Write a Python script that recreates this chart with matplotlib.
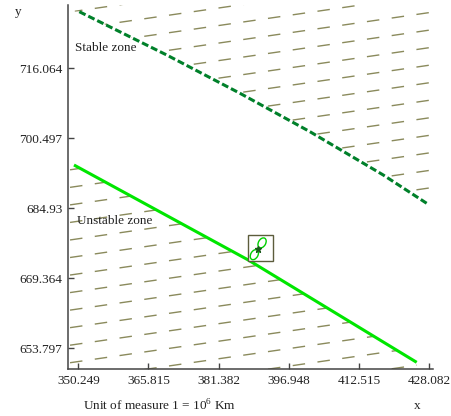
import matplotlib
matplotlib.use("Agg")

import matplotlib.pyplot as plt
import numpy as np
from matplotlib.patches import Ellipse, Polygon, Rectangle

plt.rcParams["font.family"] = ["Liberation Serif", "DejaVu Serif"]
plt.rcParams["mathtext.fontset"] = "custom"
plt.rcParams["mathtext.rm"] = "Liberation Serif"
plt.rcParams["lines.scale_dashes"] = False

# axis ticks
x_ticks = [350.249, 365.815, 381.382, 396.948, 412.515, 428.082]
y_ticks = [653.797, 669.364, 684.93, 700.497, 716.064]
x_range = [347.96, 428.97]
y_range = [649.13, 730.14]

# boundary curves (x, y)
stable_x = [350.47, 369.87, 386.14, 401.67, 417.94, 427.57]
stable_y = [728.65, 719.02, 710.50, 701.96, 692.33, 686.04]
unstable_x = [349.29, 387.98, 425.35]
unstable_y = [694.56, 673.43, 650.68]

# small marker box (centre, size)
icon_xy = (390.69, 676.10)
icon_size = (5.7, 5.7)

# background direction lines
hatch_slope = 0.145
hatch_anchor = (348.41, 650.59)
hatch_step = 3.9

olive = "#8a8a5c"
spine_col = "#444444"

fig = plt.figure(figsize=(4.51, 4.16), dpi=100)
ax = fig.add_axes([68 / 451, 1 - 369.3 / 416, 365 / 451, 364.3 / 416])
ax.set_xlim(x_range)
ax.set_ylim(y_range)

# clipping regions for the two zones
stable_pts = ([(stable_x[0] - 1.0, stable_y[0])]
              + list(zip(stable_x, stable_y))
              + [(x_range[1], stable_y[-1]), (x_range[1], y_range[1]),
                 (stable_x[0] - 1.0, y_range[1])])
unstable_pts = ([(x_range[0], unstable_y[0])]
                + list(zip(unstable_x, unstable_y))
                + [(unstable_x[-1], y_range[0]), (x_range[0], y_range[0])])
stable_poly = Polygon(stable_pts, closed=True, transform=ax.transData,
                      facecolor="none", edgecolor="none")
unstable_poly = Polygon(unstable_pts, closed=True, transform=ax.transData,
                        facecolor="none", edgecolor="none")
ax.add_patch(stable_poly)
ax.add_patch(unstable_poly)

hx = np.array([hatch_anchor[0], x_range[1] + 2])
k_lo = int(np.floor((y_range[0] - hatch_anchor[1] - hatch_slope * 85) / hatch_step)) - 1
k_hi = int(np.ceil((y_range[1] - hatch_anchor[1]) / hatch_step)) + 1
for k in range(k_lo, k_hi + 1):
    hy = hatch_anchor[1] + k * hatch_step + hatch_slope * (hx - hatch_anchor[0])
    for clip in (stable_poly, unstable_poly):
        (ln,) = ax.plot(hx, hy, color=olive, lw=1.0, zorder=1)
        ln.set_dashes((9.0, 9.0))
        ln.set_clip_path(clip)

(dark,) = ax.plot(stable_x, stable_y, color="#00802a", lw=2.2, zorder=3)
dark.set_dashes((5.0, 2.2))
ax.plot(unstable_x, unstable_y, color="#00e600", lw=2.2, zorder=3,
        solid_capstyle="butt")

# marker icon
cx, cy = icon_xy
w, h = icon_size
ax.add_patch(Rectangle((cx - w / 2, cy - h / 2), w, h, facecolor="white",
                       edgecolor="#5c5c3c", lw=1.0, zorder=4))
ax.add_patch(Ellipse((cx + 0.06 * w, cy + 0.2 * h), 0.28 * w, 0.42 * h, angle=-30,
                     facecolor="none", edgecolor="#00d000", lw=1.0, zorder=5))
ax.add_patch(Ellipse((cx - 0.24 * w, cy - 0.26 * h), 0.28 * w, 0.42 * h, angle=-30,
                     facecolor="none", edgecolor="#00d000", lw=1.0, zorder=5))
ax.plot([cx - 0.1 * w], [cy - 0.04 * h], marker="*", ms=4.5, color="#1d5a1d",
        zorder=6)

ax.text(349.52, 720.58, "Stable zone", fontsize=9.5, va="center", ha="left",
        color="#222222", zorder=4)
ax.text(349.96, 682.1, "Unstable zone", fontsize=9.5, va="center", ha="left",
        color="#222222", zorder=4)

ax.set_xticks(x_ticks)
ax.set_xticklabels([f"{v:g}" for v in x_ticks])
ax.set_yticks(y_ticks)
ax.set_yticklabels([f"{v:g}" for v in y_ticks])
ax.tick_params(direction="in", length=4, width=1.0, colors=spine_col,
               labelcolor="#222222", labelsize=9.5)
ax.tick_params(axis="x", pad=4)
ax.tick_params(axis="y", pad=4)

for side in ("top", "right"):
    ax.spines[side].set_visible(False)
for side in ("left", "bottom"):
    ax.spines[side].set_color(spine_col)
    ax.spines[side].set_linewidth(1.1)

fig.text(18 / 451, 1 - 12 / 416, "y", fontsize=9.5, ha="center", va="center",
         color="#222222")
fig.text(417 / 451, 1 - 406 / 416, "x", fontsize=9.5, ha="center", va="center",
         color="#222222")
fig.text(83 / 451, 1 - 406 / 416, r"Unit of measure 1 = 10$^{6}$ Km",
         fontsize=9.5, ha="left", va="center", color="#222222")

fig.savefig("out.png", dpi=100)
